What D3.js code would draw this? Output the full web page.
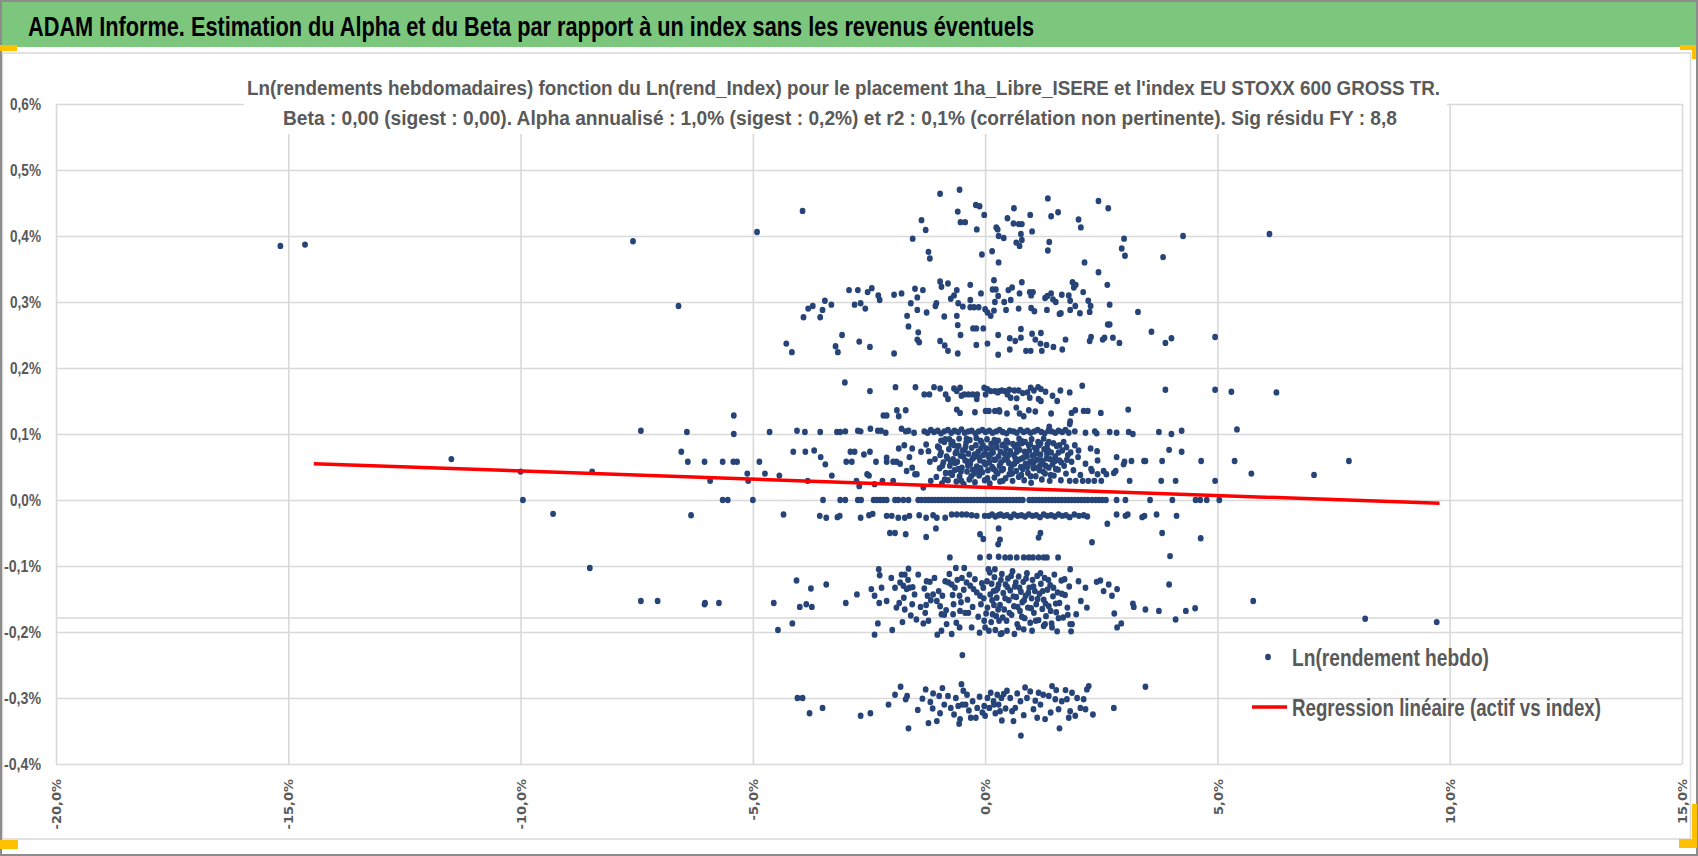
<!DOCTYPE html>
<html>
<head>
<meta charset="utf-8">
<script src="https://cdn.jsdelivr.net/npm/d3@7"></script>
<style>
  body { margin: 0; background: #ffffff; }
  svg { display: block; }
</style>
</head>
<body>
<div id="graph"></div>
<script>
//weekly log returns, [index %, asset %], grouped by band
let topScatter = [
  [-15.17,0.385],[-14.64,0.387],[-7.58,0.392],[-4.91,0.406],[-3.93,0.438],
  [-0.97,0.464],[-0.55,0.47],[-0.59,0.437],[-0.53,0.421],[-0.43,0.421],[-0.2,0.447],[-0.12,0.445],
  [-0.02,0.432],[-0.18,0.41],[-1.37,0.424],[-1.28,0.409],[-1.56,0.396],[-1.22,0.376],[-1.19,0.366],
  [-0.07,0.372],[0.15,0.377],[0.27,0.41],[0.29,0.4],[0.29,0.36],[1.35,0.457],[2.44,0.453],[2.65,0.442],
  [0.62,0.442],[0.48,0.427],[0.97,0.432],[1.42,0.43],[1.57,0.436],[0.24,0.413],[0.4,0.397],[0.61,0.419],
  [0.72,0.418],[0.79,0.418],[0.77,0.403],[0.79,0.394],[0.67,0.39],[0.74,0.385],[1.01,0.407],[1.38,0.391],
  [1.35,0.378],[2.01,0.425],[2.06,0.413],[2.99,0.396],[2.94,0.381],[3.01,0.37],[3.83,0.368],[4.26,0.4],
  [6.12,0.403],[2.14,0.36],[2.44,0.345]
];

let upperBand = [
  [-6.6,0.294],[-4.28,0.237],[-4.16,0.224],[-3.91,0.277],[-3.81,0.29],[-3.71,0.294],[-3.55,0.277],
  [-3.5,0.288],[-3.45,0.302],[-3.31,0.296],[-3.22,0.233],[-3.17,0.224],[-3.08,0.25],[-2.93,0.318],
  [-2.81,0.296],[-2.74,0.318],[-2.68,0.298],[-2.58,0.29],[-2.53,0.315],[-2.44,0.321],[-2.71,0.24],
  [-2.48,0.232],[-2.3,0.31],[-2.27,0.303],[-1.96,0.311],[-1.8,0.313],[-1.96,0.222],[-1.68,0.279],
  [-1.65,0.263],[-1.6,0.298],[-1.51,0.32],[-1.46,0.307],[-1.46,0.288],[-1.44,0.254],[-1.46,0.243],
  [-1.42,0.239],[-1.34,0.318],[-1.26,0.284],[-1.07,0.294],[-1.05,0.298],[-0.97,0.331],[-0.94,0.323],
  [-0.8,0.328],[-0.88,0.278],[-0.97,0.241],[-0.87,0.234],[-0.8,0.226],[-0.61,0.318],[-0.74,0.305],
  [-0.67,0.31],[-0.58,0.298],[-0.48,0.293],[-0.61,0.279],[-0.59,0.265],[-0.53,0.25],[-0.59,0.222],
  [-0.32,0.326],[-0.32,0.303],[-0.32,0.292],[-0.24,0.292],[-0.14,0.292],[-0.09,0.313],[0.0,0.289],
  [0.05,0.284],[0.12,0.279],[0.19,0.287],[0.16,0.319],[0.23,0.319],[0.21,0.3],[0.28,0.309],[0.19,0.333],
  [-0.26,0.26],[-0.19,0.26],[-0.04,0.26],[-0.19,0.235],[0.05,0.237],[0.28,0.25],[0.28,0.22],
  [0.79,0.33],[0.5,0.318],[0.58,0.322],[0.74,0.313],[0.55,0.303],[0.41,0.3],[0.45,0.288],[0.72,0.29],
  [0.96,0.315],[1.03,0.315],[0.99,0.31],[0.99,0.291],[1.06,0.286],[1.29,0.306],[1.34,0.309],[1.42,0.313],
  [1.46,0.304],[1.52,0.3],[1.33,0.288],[1.6,0.282],[1.63,0.283],[1.65,0.311],[1.8,0.31],[1.83,0.302],
  [1.83,0.288],[1.88,0.33],[1.95,0.326],[1.91,0.322],[1.94,0.294],[2.04,0.283],[2.11,0.315],[2.22,0.302],
  [2.27,0.294],[2.25,0.285],[2.63,0.326],[2.68,0.296],[3.29,0.285],[2.64,0.266],[2.68,0.266],[0.53,0.245],
  [0.53,0.228],[0.65,0.241],[0.77,0.259],[0.77,0.246],[0.88,0.226],[0.98,0.226],[1.01,0.252],[1.08,0.243],
  [1.2,0.253],[1.19,0.237],[1.22,0.226],[1.32,0.235],[1.47,0.232],[1.66,0.228],[1.73,0.243],[2.25,0.241],
  [2.28,0.247],[2.53,0.243],[2.57,0.246],[2.75,0.246],[2.89,0.238],[3.58,0.255],[3.88,0.238],[4.01,0.245],
  [4.95,0.247]
];

let midBand = [
  [-3.02,0.178],[-2.48,0.165],[-1.93,0.171],[-1.5,0.171],[-1.31,0.16],[-1.2,0.16],[-1.1,0.171],
  [-0.97,0.169],[-0.85,0.16],[-0.8,0.153],[-0.67,0.169],[-0.61,0.165],[-0.54,0.17],[-0.51,0.158],
  [-0.45,0.16],[-0.36,0.16],[-0.27,0.16],[-0.18,0.153],[-0.17,0.16],[-0.02,0.17],[0.01,0.16],[0.12,0.165],
  [0.21,0.165],[0.3,0.165],[-0.61,0.137],[-0.54,0.132],[-2.19,0.128],[-2.12,0.128],[-1.9,0.136],
  [-1.86,0.127],[-1.71,0.136],[-0.22,0.133],[0.01,0.135],[0.08,0.135],[0.21,0.135],[0.3,0.136],
  [-5.41,0.128],[0.36,0.166],[0.43,0.165],[0.48,0.16],[0.55,0.155],[0.63,0.166],[0.72,0.166],[0.68,0.154],
  [0.91,0.163],[0.98,0.17],[0.96,0.155],[1.14,0.171],[1.2,0.168],[1.15,0.153],[1.2,0.15],[1.45,0.158],
  [1.55,0.15],[1.82,0.163],[2.09,0.173],[3.88,0.167],[4.95,0.167],[5.3,0.164],[6.27,0.163],
  [0.05,0.168],[0.27,0.163],[0.52,0.167],[0.81,0.162],[1.05,0.166],[1.3,0.164],[1.62,0.166],
  [0.31,0.134],[0.47,0.131],[0.67,0.14],[0.74,0.131],[0.83,0.127],[0.94,0.136],[1.08,0.134],[1.42,0.131],
  [1.86,0.132],[1.94,0.136],[2.12,0.135],[2.21,0.135],[2.49,0.132],[3.08,0.137],[1.83,0.119],[1.38,0.111],
  [1.82,0.115]
];

let tenthRow = [
  [-7.41,0.105],[-6.42,0.103],[-5.41,0.1],[-4.64,0.103],[-4.05,0.105],[-3.88,0.103],[-3.55,0.103],
  [-3.19,0.103],[-3.12,0.103],[-3.01,0.104],[-2.74,0.105],[-2.68,0.104],[-2.47,0.108],[-2.31,0.105],
  [-2.24,0.105],[-2.14,0.102],[-1.8,0.108],[-1.71,0.104],[-1.65,0.105],[-1.53,0.102],[-1.31,0.104],
  [-1.24,0.102],[-1.17,0.106],[-1.1,0.103],[-1.02,0.105],[-0.95,0.101],[-0.88,0.104],[-0.8,0.106],
  [-0.73,0.102],[-0.66,0.105],[-0.58,0.103],[-0.51,0.107],[-0.44,0.102],[-0.36,0.104],[-0.29,0.105],
  [-0.21,0.101],[-0.14,0.104],[-0.06,0.106],[0.01,0.103],[0.09,0.105],[0.16,0.102],[0.24,0.104],
  [0.31,0.106],[0.38,0.103],[0.46,0.101],[0.53,0.105],[0.61,0.104],[0.68,0.102],[0.76,0.106],[0.83,0.103],
  [0.91,0.105],[0.98,0.102],[1.06,0.104],[1.13,0.106],[1.21,0.103],[1.28,0.101],[1.36,0.105],[1.43,0.104],
  [1.51,0.102],[1.58,0.105],[1.66,0.103],[1.73,0.106],[1.8,0.102],[1.93,0.104],[2.16,0.102],[2.36,0.104],
  [2.4,0.101],[2.68,0.103],[2.83,0.102],[3.09,0.103],[3.18,0.1],[3.74,0.103],[4.01,0.1],[4.23,0.105],
  [5.42,0.107]
];

let smallGains = [
  [-11.49,0.062],[-10.0,0.043],[-8.46,0.043],[-6.54,0.073],[-6.4,0.058],[-6.04,0.058],[-5.65,0.058],
  [-5.42,0.058],[-5.34,0.058],[-5.92,0.029],[-5.12,0.04],[-5.1,0.029],[-4.86,0.058],[-4.74,0.04],
  [-4.43,0.037],[-4.13,0.073],[-3.87,0.073],[-3.68,0.075],[-3.54,0.065],[-3.44,0.054],[-3.3,0.037],
  [-3.82,0.029],[-2.99,0.058],[-2.87,0.058],[-2.9,0.073],[-2.81,0.073],[-2.61,0.069],[-2.48,0.073],
  [-2.35,0.058],[-2.54,0.039],[-2.5,0.037],[-2.77,0.029],[-2.71,0.021],[-2.38,0.024],[-2.21,0.029],
  [-2.12,0.064],[-2.12,0.058],[-1.98,0.058],[-1.91,0.058],[-1.83,0.055],[-1.86,0.078],[-1.74,0.083],
  [-1.63,0.065],[-1.69,0.044],[-1.98,0.029],[-1.57,0.078],[-1.57,0.049],[-1.51,0.039],[-1.47,0.039],
  [-1.38,0.073],[-1.27,0.084],[-1.22,0.074],[-1.19,0.058],[-1.17,0.029],[-1.33,0.019],
  [-1.08,0.062],[-1.05,0.035],[-1.02,0.081],[-0.98,0.048],[-0.95,0.072],[-0.93,0.025],[-0.9,0.057],
  [-0.88,0.088],[-0.85,0.041],[-0.83,0.066],[-0.8,0.03],[-0.78,0.077],[-0.76,0.052],[-0.73,0.085],
  [-0.71,0.038],[-0.69,0.062],[-0.66,0.045],[-0.64,0.071],[-0.62,0.028],[-0.6,0.058],[-0.57,0.082],
  [-0.55,0.036],[-0.53,0.067],[-0.5,0.049],[-0.48,0.075],[-0.46,0.024],[-0.43,0.06],[-0.41,0.087],
  [-0.39,0.043],[-0.36,0.07],[-0.34,0.031],[-0.32,0.055],[-0.29,0.079],[-0.27,0.046],[-0.25,0.064],
  [-0.22,0.027],[-0.2,0.083],[-0.18,0.051],[-0.15,0.073],[-0.13,0.037],[-0.11,0.06],[-0.08,0.088],
  [-0.06,0.042],[-0.04,0.068],[-0.01,0.03],[0.01,0.054],[0.03,0.078],[0.06,0.045],[0.08,0.065],[0.1,0.025],
  [0.13,0.085],[0.15,0.05],[0.17,0.072],[0.2,0.034],[0.22,0.061],[0.25,0.08],[0.27,0.04],[0.29,0.066],
  [0.32,0.028],[0.34,0.057],[0.37,0.083],[0.39,0.047],[0.42,0.07],[0.44,0.033],[0.47,0.062],[0.49,0.087],
  [0.52,0.039],[0.54,0.074],[0.57,0.052],[0.59,0.029],[0.62,0.068],[0.64,0.081],[0.67,0.044],[0.69,0.059],
  [0.72,0.035],[0.74,0.076],[0.77,0.05],[0.79,0.086],[0.82,0.064],[0.84,0.03],[0.87,0.055],[0.89,0.071],
  [0.92,0.041],[0.94,0.083],[0.97,0.058],[0.99,0.026],[1.02,0.067],[1.04,0.048],[1.07,0.079],[1.09,0.036],
  [1.12,0.061],[1.14,0.088],[1.17,0.045],[1.19,0.069],[1.22,0.031],[1.24,0.056],[1.27,0.077],[1.29,0.04],
  [1.32,0.063],[1.34,0.084],[1.37,0.049],[1.39,0.029],[1.42,0.072],[1.45,0.054],[1.48,0.037],[1.51,0.066],
  [1.54,0.082],[1.57,0.046],[1.6,0.06],[1.63,0.03],[1.66,0.075],[1.7,0.052],[1.74,0.04],[1.78,0.068],
  [1.82,0.029],[1.86,0.058],[1.9,0.045],[1.95,0.029],[2.0,0.065],[2.05,0.038],[2.1,0.029],[2.16,0.055],
  [2.22,0.029],[2.28,0.047],[2.35,0.029],[2.42,0.06],[2.5,0.029],[2.55,0.044],
  [-0.97,0.068],[-0.87,0.031],[-0.74,0.058],[-0.67,0.083],[-0.58,0.047],[-0.51,0.029],[-0.44,0.076],
  [-0.37,0.052],[-0.3,0.036],[-0.23,0.069],[-0.16,0.044],[-0.09,0.078],[-0.02,0.057],[0.05,0.033],
  [0.11,0.069],[0.18,0.047],[0.24,0.087],[0.31,0.052],[0.38,0.029],[0.45,0.078],[0.51,0.056],[0.58,0.04],
  [0.65,0.063],[0.71,0.084],[0.78,0.038],[0.85,0.073],[0.91,0.05],[0.98,0.036],[1.05,0.058],[1.11,0.076],
  [1.18,0.052],[1.25,0.043],[1.33,0.07],[1.41,0.038],[1.5,0.059],
  [2.83,0.065],[2.98,0.054],[3.0,0.058],[3.15,0.059],[3.42,0.059],[3.45,0.059],[3.81,0.059],[3.96,0.076],
  [4.23,0.073],[4.65,0.059],[5.37,0.059],[7.83,0.059],[5.73,0.04],[7.08,0.038],[3.11,0.029],[3.79,0.029],
  [4.1,0.029],[4.95,0.029],[2.61,0.039],[2.77,0.041],[2.81,0.044],[2.3,0.044],[2.42,0.039],[2.41,0.074],
  [0.18,0.086],[0.4,0.084],[0.79,0.089],[0.97,0.084],[1.19,0.086],[1.37,0.088],[1.6,0.083],[1.75,0.08],
  [2.01,0.075],[2.27,0.078],[-0.95,0.09],[-0.77,0.092],[-0.4,0.093],[-0.1,0.09],[0.2,0.091]
];

//the solid blob just above zero
let coreGains = [
  [-0.99,0.079],[-0.92,0.052],[-0.86,0.092],[-0.81,0.063],[-0.75,0.041],[-0.7,0.088],[-0.65,0.056],
  [-0.61,0.074],[-0.56,0.093],[-0.52,0.043],[-0.47,0.066],[-0.42,0.081],[-0.38,0.058],[-0.33,0.091],
  [-0.28,0.062],[-0.24,0.04],[-0.19,0.094],[-0.14,0.065],[-0.1,0.048],[-0.05,0.083],[0.0,0.071],
  [0.04,0.092],[0.09,0.057],[0.14,0.077],[0.19,0.061],[0.23,0.044],[0.28,0.09],[0.33,0.073],[0.36,0.045],
  [0.41,0.061],[0.46,0.09],[0.5,0.068],[0.55,0.047],[0.6,0.085],[0.63,0.055],[0.68,0.073],[0.73,0.093],
  [0.76,0.062],[0.81,0.047],[0.86,0.088],[0.9,0.066],[0.95,0.075],[1.0,0.092],[1.03,0.053],[1.08,0.07],
  [1.13,0.049],[1.16,0.083],[1.21,0.06],[1.26,0.093],[1.3,0.052],[1.35,0.076],[1.4,0.062],[1.47,0.086],
  [1.52,0.047],[1.58,0.072],[1.64,0.057],[1.69,0.088],[1.76,0.061],[1.84,0.072],[1.93,0.083]
];

let flatWeeks = [
  [-9.95,0],[-5.65,0],[-5.54,0],[-5.0,0],[-3.49,0],[-3.12,0],[-3.01,0],[-2.74,0],[-2.67,0],[-2.4,0],
  [-2.33,0],[-2.26,0],[-2.19,0],[-2.12,0],[-1.94,0],[-1.87,0],[-1.76,0],[-1.65,0],[-1.44,0],[-1.37,0],
  [-1.29,0],[-1.22,0],[-1.15,0],[-1.08,0],[-1.01,0],[-0.94,0],[-0.87,0],[-0.8,0],[-0.73,0],[-0.66,0],
  [-0.59,0],[-0.52,0],[-0.45,0],[-0.38,0],[-0.31,0],[-0.24,0],[-0.17,0],[-0.1,0],[-0.03,0],[0.04,0],
  [0.11,0],[0.18,0],[0.25,0],[0.32,0],[0.39,0],[0.46,0],[0.53,0],[0.6,0],[0.67,0],[0.74,0],[0.81,0],
  [0.95,0],[1.02,0],[1.09,0],[1.16,0],[1.23,0],[1.3,0],[1.37,0],[1.44,0],[1.51,0],[1.58,0],[1.65,0],
  [1.72,0],[1.79,0],[1.86,0],[1.93,0],[2.0,0],[2.07,0],[2.14,0],[2.21,0],[2.3,0],[2.38,0],[2.45,0],
  [2.52,0],[2.6,0],[2.83,0],[3.02,0],[3.55,0],[4.03,0],[4.53,0],[4.63,0],[4.77,0],[5.04,0]
];

let smallLosses = [
  [-9.3,-0.021],[-6.33,-0.023],[-4.34,-0.022],[-3.56,-0.024],[-3.42,-0.027],[-3.18,-0.026],[-3.13,-0.024],
  [-2.68,-0.027],[-2.5,-0.023],[-2.42,-0.021],[-2.12,-0.024],[-2.01,-0.024],[-1.87,-0.027],[-1.73,-0.027],
  [-1.63,-0.024],[-1.42,-0.023],[-1.27,-0.027],[-1.12,-0.023],[-1.04,-0.027],[-0.86,-0.027],[-0.72,-0.022],
  [-0.61,-0.022],[-0.5,-0.022],[-0.4,-0.022],[-0.29,-0.023],[-0.18,-0.024],[-0.01,-0.024],[0.08,-0.024],
  [0.29,-0.023],[0.15,-0.022],[0.22,-0.025],[0.33,-0.022],[0.4,-0.024],[0.47,-0.023],[0.55,-0.026],
  [0.62,-0.022],[0.7,-0.024],[0.78,-0.023],[0.86,-0.025],[0.94,-0.022],[1.02,-0.024],[1.1,-0.023],
  [1.18,-0.026],[1.26,-0.022],[1.34,-0.024],[1.42,-0.023],[1.5,-0.025],[1.58,-0.022],[1.66,-0.024],
  [1.74,-0.023],[1.82,-0.026],[1.92,-0.022],[2.02,-0.024],[2.12,-0.023],[2.2,-0.025],
  [2.63,-0.036],[2.83,-0.022],[3.02,-0.024],[3.07,-0.022],[3.38,-0.026],[3.43,-0.024],[3.69,-0.022],
  [4.12,-0.024],[-2.05,-0.05],[-1.94,-0.05],[-1.71,-0.052],[-1.27,-0.056],[-1.06,-0.043],[-0.11,-0.052],
  [-0.04,-0.059],[0.29,-0.043],[0.32,-0.06],[0.28,-0.067],[1.15,-0.057],[1.19,-0.05],[2.3,-0.064],
  [3.81,-0.05],[4.64,-0.058]
];

let lossBand = [
  [-8.51,-0.103],[-7.41,-0.153],[-7.05,-0.153],[-6.04,-0.158],[-6.03,-0.156],[-5.73,-0.156],[-4.55,-0.156],
  [-4.46,-0.197],[-4.15,-0.187],[-4.06,-0.122],[-3.99,-0.162],[-3.85,-0.158],[-3.75,-0.134],[-3.73,-0.162],
  [-3.42,-0.128],[-3.0,-0.156],[-2.76,-0.143],[-2.45,-0.135],[-2.38,-0.145],[-2.38,-0.204],[-2.31,-0.187],
  [-2.29,-0.105],[-2.27,-0.114],[-2.23,-0.133],[-2.28,-0.156],[-2.12,-0.153],[-2.02,-0.118],[-2.0,-0.197],
  [-1.94,-0.133],[-1.91,-0.163],[-1.85,-0.156],[-1.8,-0.113],[-1.73,-0.113],[-1.65,-0.104],[-1.83,-0.125],
  [-1.76,-0.13],[-1.69,-0.135],[-1.63,-0.133],[-1.56,-0.132],[-1.78,-0.185],[-1.73,-0.166],[-1.57,-0.158],
  [-1.48,-0.181],[-1.33,-0.187],[-1.29,-0.171],[-1.27,-0.159],[-1.24,-0.145],[-1.26,-0.123],[-1.19,-0.124],
  [-1.12,-0.143],[-1.04,-0.153],[-0.97,-0.161],[-0.94,-0.173],[-0.88,-0.174],[-1.03,-0.204],[-0.94,-0.198],
  [-0.86,-0.123],[-0.79,-0.125],[-0.72,-0.128],[-0.65,-0.133],[-0.76,-0.087],[-0.63,-0.103],[-0.45,-0.103],
  [-0.68,-0.158],[-0.55,-0.145],[-0.54,-0.168],[-0.69,-0.173],[-0.62,-0.186],[-0.55,-0.193],[-0.72,-0.203],
  [-0.83,-0.188],[-0.5,-0.118],[-0.4,-0.125],[-0.32,-0.13],[-0.25,-0.135],[-0.18,-0.14],[-0.11,-0.145],
  [-0.04,-0.133],[0.04,-0.123],[0.11,-0.143],[0.18,-0.138],[0.25,-0.148],[0.29,-0.128],[-0.11,-0.087],
  [0.09,-0.086],[0.29,-0.086],[0.07,-0.105],[0.21,-0.105],[-0.43,-0.171],[-0.36,-0.171],[-0.29,-0.193],
  [-0.12,-0.201],[0.0,-0.193],[0.08,-0.198],[-0.02,-0.183],[0.05,-0.163],[-0.09,-0.158],[0.16,-0.173],
  [0.3,-0.183],[0.33,-0.203],[-0.49,-0.235],
  [0.43,-0.087],[0.54,-0.087],[0.68,-0.087],[0.83,-0.087],[0.94,-0.087],[1.03,-0.087],[1.15,-0.087],
  [1.26,-0.087],[1.33,-0.087],[1.57,-0.087],[3.98,-0.085],
  [0.36,-0.112],[0.39,-0.141],[0.41,-0.166],[0.44,-0.128],[0.46,-0.183],[0.49,-0.119],[0.51,-0.152],
  [0.54,-0.137],[0.57,-0.174],[0.59,-0.108],[0.62,-0.161],[0.64,-0.131],[0.67,-0.147],[0.69,-0.188],
  [0.72,-0.116],[0.75,-0.168],[0.77,-0.139],[0.8,-0.155],[0.82,-0.124],[0.85,-0.179],[0.87,-0.145],
  [0.9,-0.111],[0.92,-0.163],[0.95,-0.133],[0.97,-0.186],[1.0,-0.149],[1.02,-0.121],[1.05,-0.171],
  [1.07,-0.138],[1.1,-0.158],[1.12,-0.115],[1.15,-0.182],[1.17,-0.142],[1.2,-0.127],[1.23,-0.165],
  [1.26,-0.151],[1.28,-0.118],[1.31,-0.176],[1.34,-0.136],[1.37,-0.161],[1.4,-0.129],[1.43,-0.187],
  [1.46,-0.146],[1.49,-0.113],[1.53,-0.17],[1.56,-0.14],[1.6,-0.156],[1.64,-0.122],[1.68,-0.178],
  [1.72,-0.144],[1.77,-0.163],[1.81,-0.131],[0.15,-0.152],[0.2,-0.117],[0.24,-0.176],[0.27,-0.134],
  [0.32,-0.159],[0.13,-0.185],[0.22,-0.197],
  [0.36,-0.202],[0.47,-0.198],[0.63,-0.203],[0.72,-0.193],[0.83,-0.196],[1.01,-0.198],[1.26,-0.191],
  [1.29,-0.188],[1.44,-0.193],[1.55,-0.199],[1.85,-0.199],[1.87,-0.188],
  [1.83,-0.105],[2.01,-0.123],[2.16,-0.133],[2.06,-0.153],[2.19,-0.163],[1.96,-0.173],[1.83,-0.188],
  [2.4,-0.124],[2.48,-0.122],[2.55,-0.138],[2.66,-0.128],[2.84,-0.135],[2.73,-0.145],[2.78,-0.172],
  [2.84,-0.193],[2.93,-0.187],[3.18,-0.157],[3.2,-0.162],[3.45,-0.166],[3.74,-0.168],[3.96,-0.128],
  [4.1,-0.181],[4.32,-0.168],[4.52,-0.164],[5.77,-0.153],[8.18,-0.18],[9.72,-0.185]
];

//the solid blob below -0,1%
let coreLosses = [
  [-1.75,-0.148],[-1.66,-0.121],[-1.6,-0.175],[-1.52,-0.143],[-1.44,-0.113],[-1.39,-0.162],[-1.31,-0.134],
  [-1.22,-0.183],[-1.17,-0.152],[-1.09,-0.118],[-1.0,-0.138],[-0.92,-0.145],[-0.84,-0.167],[-0.77,-0.112],
  [-0.7,-0.144],[-0.6,-0.121],[-0.52,-0.155],[-0.46,-0.136],[-0.38,-0.151],[-0.34,-0.113],[-0.27,-0.162],
  [-0.22,-0.12],[-0.15,-0.177],[-0.07,-0.126],[-0.03,-0.149],[0.02,-0.172],[0.1,-0.11],[0.14,-0.127],
  [0.19,-0.159],[0.23,-0.137],[0.28,-0.166],[0.34,-0.121],[0.38,-0.178],[0.43,-0.149],[0.48,-0.132],
  [0.52,-0.171],[0.56,-0.115],[0.61,-0.146],[0.66,-0.125],[0.7,-0.162],[0.74,-0.133],[0.79,-0.177],
  [0.84,-0.152],[0.88,-0.119],[0.93,-0.141],[0.99,-0.164],[1.04,-0.131],[1.09,-0.183],[1.13,-0.15],
  [1.19,-0.111],[1.24,-0.138],[1.3,-0.157],[1.36,-0.121],[1.41,-0.168],[1.47,-0.133],[1.52,-0.157],
  [1.58,-0.179],[1.65,-0.142],[1.71,-0.12],[1.78,-0.174]
];

let deepLosses = [
  [-4.04,-0.3],[-3.93,-0.3],[-3.78,-0.323],[-3.5,-0.315],[-2.68,-0.327],[-2.47,-0.323],[-2.08,-0.31],
  [-1.94,-0.295],[-1.82,-0.283],[-1.71,-0.302],[-1.68,-0.297],[-1.65,-0.346],[-1.28,-0.287],[-1.18,-0.306],
  [-1.12,-0.293],[-0.99,-0.297],[-1.13,-0.316],[-0.97,-0.323],[-1.22,-0.338],[-1.04,-0.335],[-0.74,-0.315],
  [-0.67,-0.325],[-0.58,-0.312],[-0.51,-0.279],[-0.47,-0.289],[-0.42,-0.31],[-0.49,-0.31],[-0.54,-0.332],
  [-0.56,-0.339],[-0.35,-0.319],[-0.31,-0.33],[-0.2,-0.33],[-0.17,-0.315],[-0.06,-0.322],[-0.02,-0.312],
  [0.05,-0.3],[0.09,-0.315],[0.19,-0.31],[0.26,-0.295],[0.32,-0.32],
  [0.18,-0.305],[0.29,-0.31],[0.4,-0.294],[0.47,-0.289],[0.54,-0.3],[0.58,-0.32],[0.61,-0.335],[0.65,-0.315],
  [0.76,-0.305],[0.77,-0.357],[0.86,-0.284],[0.9,-0.3],[1.04,-0.317],[1.12,-0.33],[1.15,-0.292],[1.19,-0.31],
  [1.29,-0.332],[1.37,-0.297],[1.44,-0.282],[1.51,-0.302],[1.58,-0.317],[1.6,-0.346],[1.73,-0.288],
  [1.76,-0.302],[1.8,-0.33],[1.83,-0.32],[1.87,-0.292],[1.94,-0.327],[2.12,-0.302],[2.16,-0.317],
  [2.19,-0.287],[2.23,-0.282],[2.32,-0.325],[2.77,-0.315],[3.45,-0.283],[0.36,-0.334],
  [-1.45,-0.318],[-1.35,-0.301],[-0.88,-0.31],[-0.8,-0.297],[-0.63,-0.3],[-0.39,-0.295],[-0.27,-0.305],
  [-0.12,-0.298],[0.0,-0.327],[0.12,-0.292],[0.22,-0.323],[0.35,-0.3],[0.44,-0.316],[0.69,-0.293],
  [0.83,-0.326],[0.97,-0.29],[1.08,-0.304],[1.25,-0.295],[1.41,-0.322],[1.65,-0.305],[1.98,-0.3],
  [2.05,-0.315],[-0.92,-0.285],[1.53,-0.288]
];

//regression line ends
let regressionX = [-14.45, 9.78];
let regressionY = [0.055, -0.005];

//ticks
let xTicks = [-20, -15, -10, -5, 0, 5, 10, 15];
let yTicks = [-0.4, -0.3, -0.2, -0.1, 0, 0.1, 0.2, 0.3, 0.4, 0.5, 0.6];

let chartTitle =
  "ADAM Informe. Estimation du Alpha et du Beta par rapport à un index sans les revenus éventuels";
let subTitle = [
  "Ln(rendements hebdomadaires) fonction du Ln(rend_Index) pour le placement 1ha_Libre_ISERE et l'index EU STOXX 600 GROSS TR.",
  "Beta : 0,00 (sigest : 0,00). Alpha annualisé : 1,0% (sigest : 0,2%) et r2 : 0,1% (corrélation non pertinente). Sig résidu FY : 8,8",
];
let legendLabels = ["Ln(rendement hebdo)", "Regression linéaire (actif vs index)"];

let pctFormat = (d) =>
  (d < 0 ? "-" : "") + Math.abs(d).toFixed(1).replace(".", ",") + "%";

function runChart() {
  let fullW = 1698,
    fullH = 856;
  let plot = { left: 56, right: 1682, top: 104, bottom: 764 };
  let font = "'Liberation Sans', Arial, sans-serif";
  let grey = "#595959";
  let dotColor = "#264478";

  let svg = d3
    .select("#graph")
    .append("svg")
    .attr("width", fullW)
    .attr("height", fullH);

  //outer frame and green banner
  svg.append("rect").attr("x", 0).attr("y", 0).attr("width", fullW).attr("height", fullH)
    .attr("fill", "#ffffff");
  svg.append("rect").attr("x", 2).attr("y", 2).attr("width", fullW - 4).attr("height", 45)
    .attr("fill", "#7dc67d");
  svg.append("rect").attr("x", 2.5).attr("y", 53).attr("width", 1688).attr("height", 786)
    .attr("fill", "none").attr("stroke", "#d9d9d9").attr("stroke-width", 1.5);
  svg.append("rect").attr("x", 1).attr("y", 1).attr("width", fullW - 2).attr("height", fullH - 2)
    .attr("fill", "none").attr("stroke", "#8c8c8c").attr("stroke-width", 2);

  svg.append("text")
    .attr("x", 28).attr("y", 36)
    .attr("textLength", 1006).attr("lengthAdjust", "spacingAndGlyphs")
    .style("font-family", font).style("font-weight", "bold").style("font-size", "28px")
    .attr("fill", "#000000")
    .text(chartTitle);

  // scales
  let x = d3.scaleLinear().domain([-20, 15]).range([plot.left, plot.right]);
  let y = d3.scaleLinear().domain([-0.4, 0.6]).range([plot.bottom, plot.top]);

  //gridlines come from the axes, ticks stretched across the plot
  let yAxis = svg.append("g")
    .attr("transform", "translate(" + plot.left + ",0)")
    .call(d3.axisLeft(y).tickValues(yTicks).tickFormat(pctFormat)
      .tickSize(-(plot.right - plot.left)).tickPadding(15));
  let xAxis = svg.append("g")
    .attr("transform", "translate(0," + plot.bottom + ")")
    .call(d3.axisBottom(x).tickValues(xTicks).tickFormat(pctFormat)
      .tickSize(-(plot.bottom - plot.top)).tickPadding(0));

  svg.selectAll(".domain").remove();
  svg.selectAll(".tick line").attr("stroke", "#d9d9d9").attr("stroke-width", 1.6);

  //the excel labels are narrow, so squeeze them to the widths in the picture
  yAxis.selectAll("text")
    .attr("textLength", (d) => (d < 0 ? 37 : 31))
    .attr("lengthAdjust", "spacingAndGlyphs")
    .style("font-family", font).style("font-weight", "bold").style("font-size", "17px")
    .attr("fill", grey);

  xAxis.selectAll("text")
    .attr("transform", "rotate(-90)")
    .attr("x", -15).attr("y", 0).attr("dy", "0.36em")
    .style("text-anchor", "end")
    .style("font-family", "'DejaVu Sans', sans-serif").style("font-weight", "bold")
    .style("font-size", "13px")
    .attr("fill", grey);

  //stray frame line of the legend box crossing the plot
  svg.append("line")
    .attr("x1", plot.left).attr("x2", plot.right).attr("y1", 618).attr("y2", 618)
    .attr("stroke", "#d9d9d9").attr("stroke-width", 1.6);

  //subtitle sits on a white box over the top gridline
  svg.append("rect").attr("x", 244).attr("y", 64).attr("width", 1203).attr("height", 70)
    .attr("fill", "#ffffff");
  svg.append("text")
    .attr("x", 247).attr("y", 95)
    .attr("textLength", 1193).attr("lengthAdjust", "spacingAndGlyphs")
    .style("font-family", font).style("font-weight", "bold").style("font-size", "20px")
    .attr("fill", grey).text(subTitle[0]);
  svg.append("text")
    .attr("x", 283).attr("y", 125)
    .attr("textLength", 1114).attr("lengthAdjust", "spacingAndGlyphs")
    .style("font-family", font).style("font-weight", "bold").style("font-size", "20px")
    .attr("fill", grey).text(subTitle[1]);

  // all the weekly points
  let points = [].concat(topScatter, upperBand, midBand, tenthRow, smallGains, coreGains,
    flatWeeks, smallLosses, lossBand, coreLosses, deepLosses);

  svg.append("g")
    .selectAll("ellipse")
    .data(points)
    .join("ellipse")
    .attr("cx", (d) => x(d[0]))
    .attr("cy", (d) => y(d[1]))
    .attr("rx", 2.9)
    .attr("ry", 3.2)
    .attr("fill", dotColor);

  //regression line
  let regLine = d3.line().x((d) => x(d[0])).y((d) => y(d[1]));
  svg.append("path")
    .datum(d3.zip(regressionX, regressionY))
    .attr("d", regLine)
    .attr("fill", "none")
    .attr("stroke", "#ff0000")
    .attr("stroke-width", 3.5);

  //legend
  let legend = svg.append("g");
  legend.append("ellipse")
    .attr("cx", 1268).attr("cy", 657).attr("rx", 2.9).attr("ry", 3.2)
    .attr("fill", dotColor);
  legend.append("line")
    .attr("x1", 1252).attr("x2", 1287).attr("y1", 707).attr("y2", 707)
    .attr("stroke", "#ff0000").attr("stroke-width", 3.5);
  legend.selectAll("text")
    .data(legendLabels)
    .join("text")
    .attr("x", 1292)
    .attr("y", (d, i) => 666 + i * 50)
    .attr("textLength", (d, i) => (i === 0 ? 197 : 309))
    .attr("lengthAdjust", "spacingAndGlyphs")
    .style("font-family", font).style("font-weight", "bold").style("font-size", "23px")
    .attr("fill", grey)
    .text((d) => d);

  //selection handles in the corners
  let handles = [
    [0, 45, 17, 6],
    [1680, 45, 16, 5],
    [1692, 45, 4, 14],
    [0, 840, 18, 9],
    [1692, 804, 5, 44],
    [1679, 839, 18, 9],
  ];
  svg.append("g")
    .selectAll("rect")
    .data(handles)
    .join("rect")
    .attr("x", (d) => d[0]).attr("y", (d) => d[1])
    .attr("width", (d) => d[2]).attr("height", (d) => d[3])
    .attr("fill", "#ffc000");
}

runChart();
</script>
</body>
</html>
